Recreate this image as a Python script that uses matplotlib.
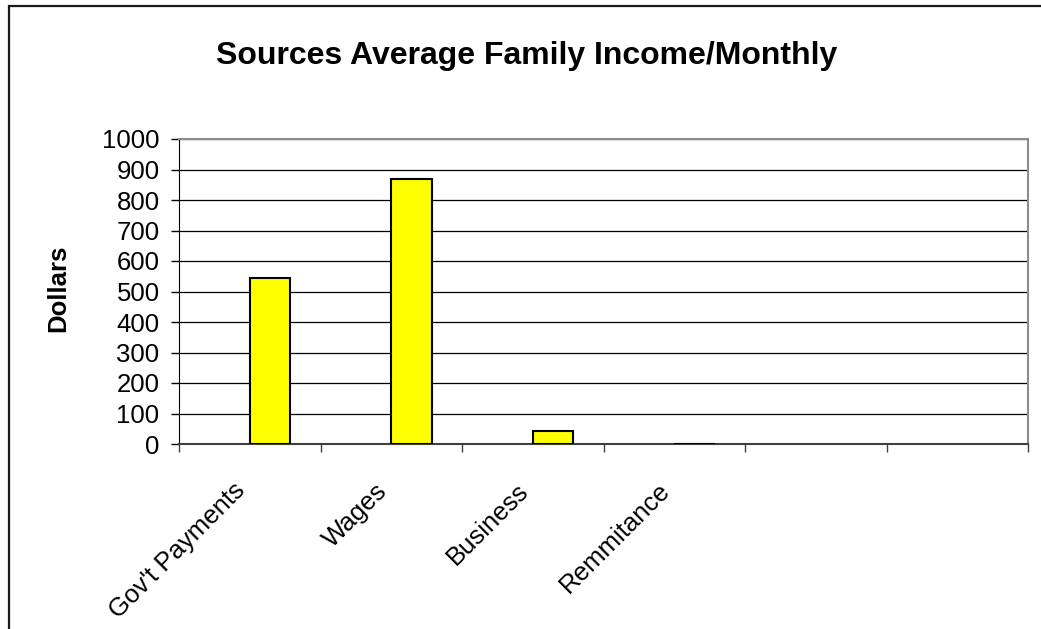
import matplotlib
matplotlib.use("Agg")
import matplotlib.pyplot as plt
import matplotlib.transforms as mtransforms
from matplotlib.patches import Rectangle
import numpy as np

plt.rcParams.update({"font.family": ["Liberation Sans", "DejaVu Sans"]})

categories = ["Gov't Payments", "Wages", "Business", "Remmitance", "", ""]
values = [545, 870, 42, 0]
yticks = list(range(0, 1001, 100))

W, H = 1041, 629
fig = plt.figure(figsize=(W / 100, H / 100), dpi=100)
ax = fig.add_axes([179 / W, 1 - 444 / H, 849 / W, 305 / H])

pos = np.arange(len(categories))
ax.bar(pos[:len(values)], values, width=0.286, align="edge",
       color="#FFFF00", edgecolor="black", linewidth=1.5, zorder=3)

ax.set_xlim(-0.5, len(categories) - 0.5)
ax.set_ylim(0, 1000)
ax.set_yticks(yticks)
ax.set_yticklabels([str(t) for t in yticks], fontsize=18.5)
ax.yaxis.grid(True, color="black", linewidth=0.9, zorder=0)
ax.set_axisbelow(True)
ax.tick_params(axis="y", direction="out", length=6, width=1, pad=8, color="black")

ax.set_xticks(pos)
ax.set_xticklabels(categories, fontsize=18.5, rotation=45, ha="right",
                   va="center", rotation_mode="anchor")
ax.tick_params(axis="x", which="major", length=0, pad=31)
ax.set_xticks(np.arange(-0.5, len(categories)), minor=True)
ax.tick_params(axis="x", which="minor", direction="out", length=6, width=1, color="#404040")
shift = mtransforms.ScaledTranslation(-8 / 100, 0, fig.dpi_scale_trans)
for lab in ax.get_xticklabels():
    lab.set_transform(lab.get_transform() + shift)

for side in ("top", "right"):
    ax.spines[side].set_color("#8c8c8c")
    ax.spines[side].set_linewidth(1.5)
ax.spines["left"].set_color("black")
ax.spines["bottom"].set_color("#404040")
ax.spines["bottom"].set_linewidth(1.5)

fig.text(527 / W, 1 - 64 / H, "Sources Average Family Income/Monthly",
         fontsize=23, fontweight="bold", ha="center", va="baseline")
fig.text(58 / W, 1 - 288 / H, "Dollars", rotation=90, fontsize=18.5,
         fontweight="bold", ha="center", va="center")

fig.add_artist(Rectangle((8.5 / W, -0.2), 1.5, 1 - 6 / H + 0.2, transform=fig.transFigure,
                         fill=False, edgecolor="#1a1a1a", linewidth=1.6, clip_on=False))

fig.savefig("out.png", dpi=100)
